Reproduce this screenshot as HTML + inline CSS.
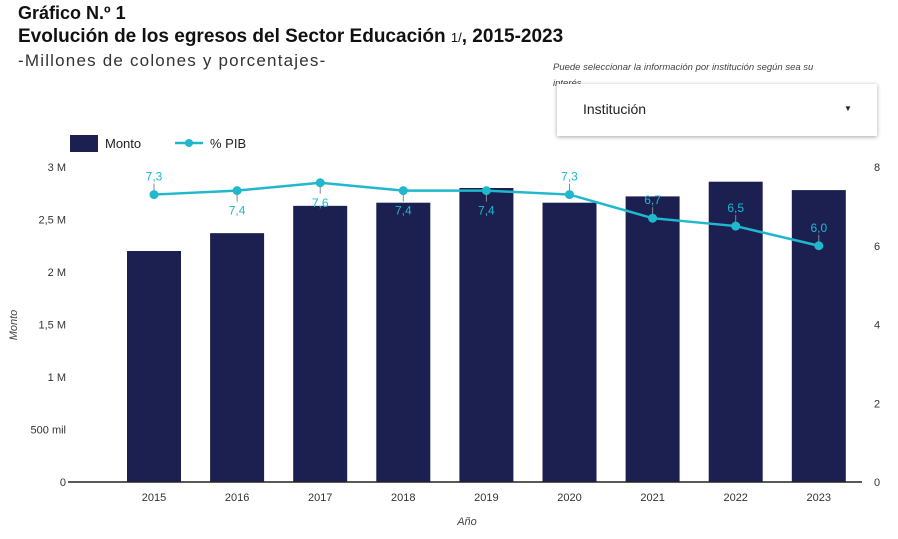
<!DOCTYPE html>
<html><head><meta charset="utf-8"><style>
body{margin:0;width:898px;height:539px;background:#fff;font-family:"Liberation Sans",sans-serif;overflow:hidden;position:relative;color:#111}
.t{position:absolute;white-space:nowrap}
</style></head><body>
<div class="t" style="left:18px;top:3px;font-size:18px;font-weight:bold">Gráfico N.º 1</div>
<div class="t" style="left:18px;top:26px;font-size:19px;font-weight:bold">Evolución de los egresos del Sector Educación <span style="font-size:13px;font-weight:normal">1/</span>, 2015-2023</div>
<div class="t" style="left:18px;top:51px;font-size:17px;color:#333;letter-spacing:1.2px">-Millones de colones y porcentajes-</div>
<div class="t" style="left:553px;top:60px;font-size:9.5px;font-style:italic;color:#444;white-space:normal;width:285px;line-height:16px">Puede seleccionar la información por institución según sea su interés</div>
<div style="position:absolute;left:557px;top:84px;width:320px;height:52px;background:#fff;box-shadow:0 1px 4px rgba(0,0,0,0.35)">
<span class="t" style="left:26px;top:17px;font-size:14px;color:#222">Institución</span>
<span class="t" style="left:287px;top:20px;font-size:8px;color:#222">▼</span>
</div>
<svg id="c" width="898" height="539" style="position:absolute;left:0;top:0"></svg>
<script>
const years=["2015","2016","2017","2018","2019","2020","2021","2022","2023"];
const monto=[2.20,2.37,2.63,2.66,2.80,2.66,2.72,2.86,2.78];
const pib=[7.3,7.4,7.6,7.4,7.4,7.3,6.7,6.5,6.0];
const pibLabels=["7,3","7,4","7,6","7,4","7,4","7,3","6,7","6,5","6,0"];
const labelAbove=[1,0,0,0,0,1,1,1,1];
const leftTicks=[0,0.5,1,1.5,2,2.5,3];
const leftTickLabels=["0","500 mil","1 M","1,5 M","2 M","2,5 M","3 M"];
const rightTicks=[0,2,4,6,8];
const svg=document.getElementById('c');const NS="http://www.w3.org/2000/svg";
const y0=482,yTop=167;
const yL=v=>y0-(v/3)*(y0-yTop);
const yR=v=>y0-(v/8)*(y0-yTop);
const xC=i=>154+i*83.1;
function mk(t,a,txt){const e=document.createElementNS(NS,t);for(const k in a)e.setAttribute(k,a[k]);if(txt!==undefined)e.textContent=txt;svg.appendChild(e);return e;}
leftTicks.forEach((v,i)=>{const e=mk('text',{x:66,y:yL(v)+4,'text-anchor':'end','font-size':11,fill:'#333'},leftTickLabels[i]);

});
rightTicks.forEach(v=>{const e=mk('text',{x:874,y:yR(v)+4,'font-size':11,fill:'#333'},String(v));

});
years.forEach((yr,i)=>{const w=54;const r=mk('rect',{x:xC(i)-w/2,y:yL(monto[i]),width:w,height:y0-yL(monto[i]),fill:'#1b2050'});


const t=mk('text',{x:xC(i),y:501,'text-anchor':'middle','font-size':11,fill:'#333'},yr);

});
const ax=mk('line',{x1:68,x2:862,y1:y0,y2:y0,stroke:'#222','stroke-width':1.5});


const pl=mk('polyline',{points:pib.map((v,i)=>xC(i)+','+yR(v)).join(' '),fill:'none',stroke:'#1fb8cd','stroke-width':2.5});


pib.forEach((v,i)=>{const x=xC(i),y=yR(v);const up=labelAbove[i];
const ly=up?y-11:y+11;
const l=mk('line',{x1:x,x2:x,y1:y,y2:ly,stroke:'#888','stroke-width':1});


const c=mk('circle',{cx:x,cy:y,r:4.5,fill:'#1fb8cd'});


const t=mk('text',{x:x,y:up?y-14:y+24,'text-anchor':'middle','font-size':12,fill:'#1fb8cd'},pibLabels[i]);

});
const lg1=mk('rect',{x:70,y:135,width:28,height:17,fill:'#1b2050'});


const lt1=mk('text',{x:105,y:148,'font-size':13,fill:'#222'},'Monto');


const lg2=mk('line',{x1:175,x2:203,y1:143,y2:143,stroke:'#1fb8cd','stroke-width':2.5});


const lc=mk('circle',{cx:189,cy:143,r:4,fill:'#1fb8cd'});


const lt2=mk('text',{x:210,y:148,'font-size':13,fill:'#222'},'% PIB');


const xt=mk('text',{x:467,y:525,'text-anchor':'middle','font-size':11,'font-style':'italic',fill:'#444'},'Año');


const yt=mk('text',{x:0,y:0,'text-anchor':'middle','font-size':11,'font-style':'italic',fill:'#444',transform:'translate(17,325) rotate(-90)'},'Monto');


</script>
</body></html>
